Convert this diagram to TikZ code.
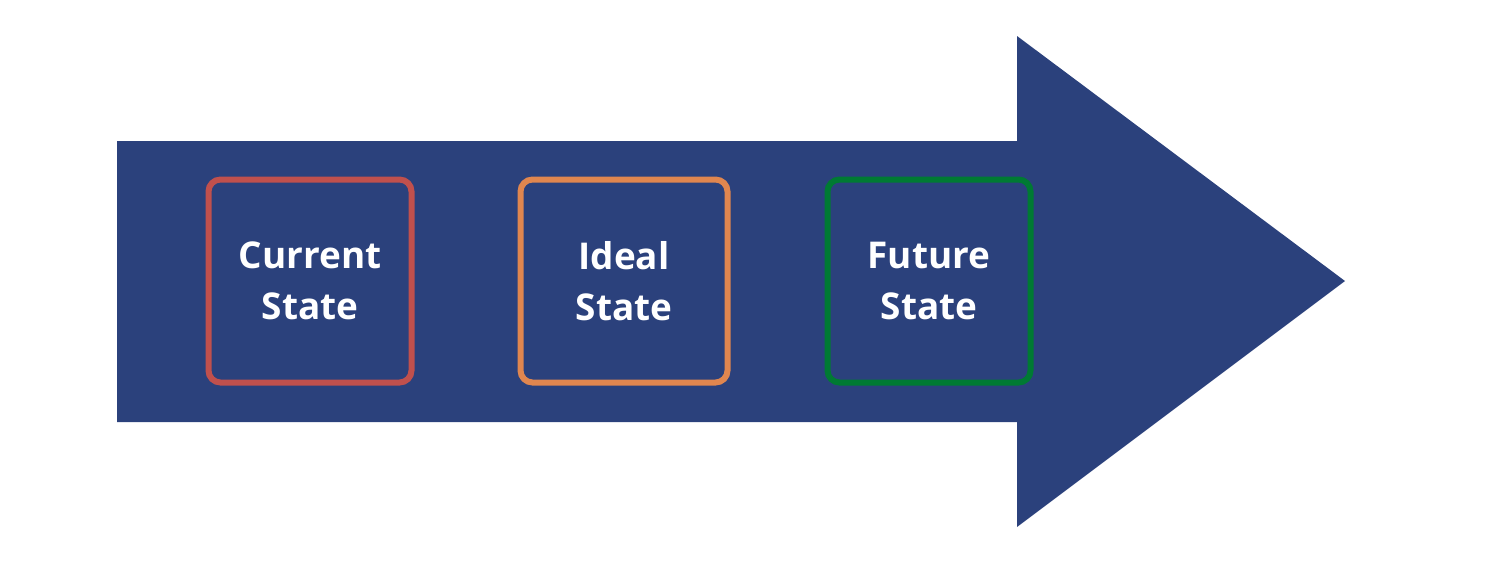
\documentclass[tikz,border=0pt]{standalone}
\usepackage{fontspec}
\setmainfont{Open Sans}
\usepackage{xcolor}
\usepackage{tikz}
\usetikzlibrary{positioning}
\definecolor{navy}{HTML}{2B417C}
\definecolor{redline}{HTML}{C0504D}
\definecolor{orangeline}{HTML}{E0864F}
\definecolor{greenline}{HTML}{007A33}
\tikzset{
	state node/.style={rectangle,rounded corners=2.4mm,line width=1.2mm,minimum size=4.06cm,
		align=center,text=white,font=\fontsize{21}{29}\selectfont\bfseries}
}

\begin{document}
\begin{tikzpicture}[x=0.2mm,y=-0.2mm,node distance=6.2cm]
		    \useasboundingbox (0,0) rectangle (1500,563);
		    % big arrow
		    \fill[navy] (117,141) -- (1017,141) -- (1017,36) -- (1345,281) -- (1017,527) -- (1017,422) -- (117,422) -- cycle;

		    \node[state node,draw=redline]                       (cur) at (310,281)          {Current\\State};
		    \node[state node,draw=orangeline,minimum width=4.14cm] (ide) [right of=cur,xshift=0.08cm] {Ideal\\State};
		    \node[state node,draw=greenline]                     (fut) [right of=ide,xshift=-0.1cm] {Future\\State};
		  \end{tikzpicture}
\end{document}
